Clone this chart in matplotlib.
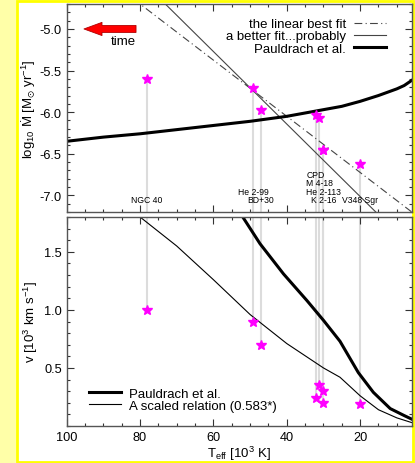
import matplotlib
matplotlib.use("Agg")
import matplotlib.pyplot as plt
from matplotlib.patches import Rectangle
from matplotlib.ticker import MultipleLocator, FixedLocator

plt.rcParams['font.family'] = ['Liberation Sans', 'DejaVu Sans']
plt.rcParams['mathtext.default'] = 'regular'
plt.rcParams['axes.unicode_minus'] = False

# stars
names = ['NGC 40', 'He 2-99', 'BD+30', 'CPD', 'M 4-18', 'He 2-113', 'K 2-16', 'V348 Sgr']
teff = [78.1, 49.1, 47.1, 32.1, 31.1, 30.0, 30.0, 20.0]
log_mdot = [-5.60, -5.71, -5.97, -6.03, -6.07, -6.45, -6.45, -6.62]
vinf = [1.00, 0.90, 0.70, 0.24, 0.35, 0.30, 0.20, 0.19]

# top panel relations
paul_t = [100, 90, 80, 70, 60, 50, 40, 30, 25, 20, 15, 10, 8, 6]
paul_mdot = [-6.35, -6.30, -6.26, -6.21, -6.16, -6.11, -6.05, -5.97, -5.93, -5.87, -5.80, -5.72, -5.68, -5.62]
lin_t = [100, 0]
lin_mdot = [-4.025, -7.40]
better_t = [80, 10]
better_mdot = [-4.40, -7.45]

# bottom panel relations
pv_t = [55, 52, 47.3, 40.9, 34.5, 30, 25.5, 20.5, 16.4, 11.8, 8, 6]
pv_v = [1.93, 1.80, 1.57, 1.31, 1.08, 0.91, 0.73, 0.46, 0.29, 0.15, 0.09, 0.06]
sc_t = [82, 80, 70, 60, 50, 40, 30, 25.5, 20, 15, 10, 6]
sc_v = [1.85, 1.80, 1.55, 1.26, 0.96, 0.71, 0.50, 0.42, 0.26, 0.14, 0.07, 0.03]

W, H = 415, 464
fig = plt.figure(figsize=(W / 100, H / 100), dpi=100, facecolor='#ffffa8')
fig.patches.append(Rectangle((17 / W, 1 - 463 / H), 396 / W, 461 / H, transform=fig.transFigure,
                             facecolor='white', edgecolor='#ffff00', lw=2, zorder=-10))

ax1 = fig.add_axes([66.7 / W, 1 - 213 / H, 344.8 / W, 208 / H])
ax2 = fig.add_axes([66.7 / W, 1 - 427 / H, 344.8 / W, 209 / H])

grey = '#dcdcdc'
for ax in (ax1, ax2):
    ax.set_xlim(100, 6)
    ax.xaxis.set_major_locator(MultipleLocator(20))
    ax.xaxis.set_minor_locator(MultipleLocator(5))
    ax.tick_params(which='both', direction='in', top=True, right=True, labelsize=9.2, colors='#333333')
    ax.tick_params(which='major', length=5, width=0.8)
    ax.tick_params(which='minor', length=2.5, width=0.8)
    for s in ax.spines.values():
        s.set_color('#555555')
        s.set_linewidth(1.0)
    ax.tick_params(axis='both', labelcolor='black')

# top panel
ax1.set_ylim(-7.2, -4.7)
ax1.yaxis.set_major_locator(MultipleLocator(0.5))
ax1.yaxis.set_minor_locator(MultipleLocator(0.1))
ax1.tick_params(labelbottom=False)
for t, m in zip(teff, log_mdot):
    ax1.plot([t, t], [m, -7.2], color=grey, lw=1.5, zorder=1)
ax1.plot(lin_t, lin_mdot, color='#444444', lw=0.8, dashes=[7, 3, 1, 3], label='the linear best fit')
ax1.plot(better_t, better_mdot, color='#444444', lw=0.8, label='a better fit...probably')
ax1.plot(paul_t, paul_mdot, color='black', lw=2.2, label='Pauldrach et al.')
ax1.plot(teff, log_mdot, '*', color='#ff00ff', ms=7, zorder=5)
rows = [0, 1, 0, 3, 2, 1, 0, 0]
for n, t, r in zip(names, teff, rows):
    ax1.text(t, -7.05 + 0.1 * r, n, fontsize=6.2, ha='center', va='center', zorder=4)
ax1.legend(loc='upper right', frameon=False, markerfirst=False, fontsize=9.5,
           handlelength=2.4, labelspacing=0.0, handletextpad=0.6,
           bbox_to_anchor=(0.96, 0.99))
ax1.annotate('', xy=(95.3, -5.0), xytext=(81.1, -5.0),
             arrowprops=dict(arrowstyle='simple,head_length=1.3,head_width=0.95,tail_width=0.5',
                             fc='#ff0000', ec='#b00000', lw=0.6, shrinkA=0, shrinkB=0, mutation_scale=10))
ax1.text(84.6, -5.14, 'time', fontsize=9.5, ha='center', va='center')
ax1.set_ylabel('log$_{10}$ Ṁ [M$_{⊙}$ yr$^{-1}$]', fontsize=9.5, labelpad=1)

# bottom panel
ax2.set_ylim(0, 1.8)
ax2.yaxis.set_major_locator(FixedLocator([0.5, 1.0, 1.5]))
ax2.yaxis.set_minor_locator(MultipleLocator(0.1))
for t, v in zip(teff, vinf):
    ax2.plot([t, t], [v, 1.8], color=grey, lw=1.5, zorder=1)
ax2.plot(pv_t, pv_v, color='black', lw=2.2, label='Pauldrach et al.')
ax2.plot(sc_t, sc_v, color='black', lw=0.8, label='A scaled relation (0.583*)')
ax2.plot(teff, vinf, '*', color='#ff00ff', ms=7, zorder=5)
ax2.legend(loc='lower left', frameon=False, fontsize=9.5, handlelength=2.4,
           labelspacing=0.0, handletextpad=0.6, bbox_to_anchor=(0.03, 0.01))
ax2.set_ylabel(r'v [10$^3$ km s$^{-1}$]', fontsize=9.5, labelpad=3)
ax2.set_xlabel(r'T$_{eff}$ [10$^3$ K]', fontsize=9.5, labelpad=1)

fig.savefig('out.png', dpi=100, facecolor=fig.get_facecolor())
